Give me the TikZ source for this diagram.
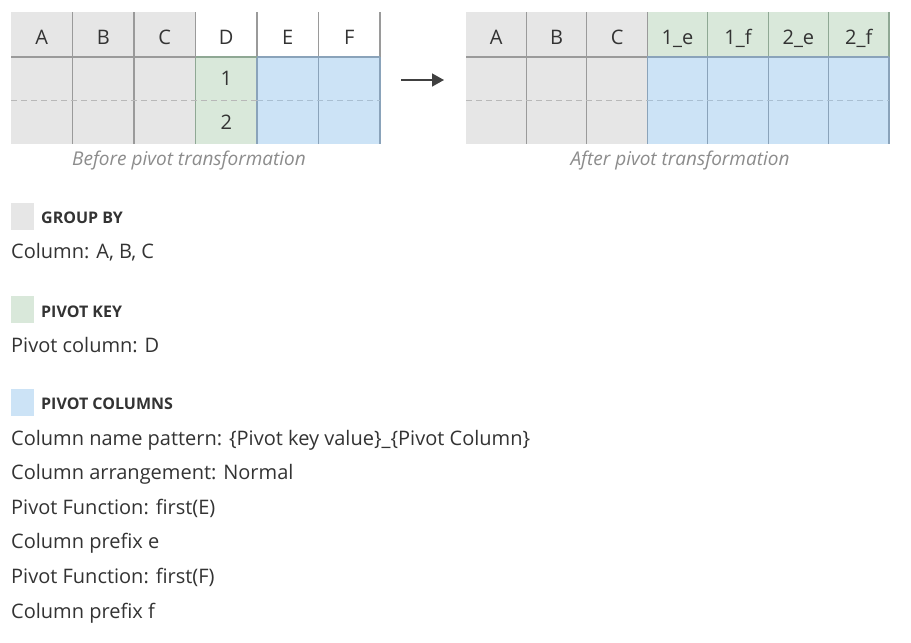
\documentclass[tikz,border=0pt]{standalone}
\usepackage{fontspec}
\setmainfont{Open Sans}
\usetikzlibrary{arrows.meta}
\definecolor{grayfill}{HTML}{E6E6E6}
\definecolor{keyfill}{HTML}{D9E8DA}
\definecolor{colfill}{HTML}{CCE3F6}
\definecolor{gridgray}{HTML}{9A9A9A}
\definecolor{gridgreen}{HTML}{8FA894}
\definecolor{gridblue}{HTML}{8AA3BA}
\definecolor{dashgray}{HTML}{B8B8B8}
\definecolor{dashblue}{HTML}{A9BFD2}
\definecolor{txt}{HTML}{333333}
\definecolor{capgray}{HTML}{8C8C8C}
\definecolor{arrowgray}{HTML}{404040}
\begin{document}
\begin{tikzpicture}[x=1pt,y=-1pt,
  cell/.style={anchor=north west,inner sep=0pt,outer sep=0pt,minimum height=#1,text=txt,font=\fontsize{20}{22}\selectfont},
  hdr/.style={text height=19pt,text depth=0pt},
  bdy/.style={text height=14pt,text depth=0pt},
  cellL/.style={cell=45pt,minimum width=61.5pt,hdr},
  cellLb/.style={cell=43.5pt,minimum width=61.5pt,bdy},
  cellR/.style={cell=45pt,minimum width=60.43pt,hdr},
  cellRb/.style={cell=43.5pt,minimum width=60.43pt,bdy},
  grid/.style={line width=1.2pt},
  dashln/.style={line width=1pt,dash pattern=on 6pt off 4pt},
  caption/.style={anchor=base,text=capgray,font=\fontsize{19}{21}\selectfont\itshape},
  legsq/.style={anchor=north west,inner sep=0pt,minimum width=23pt,minimum height=27pt},
  legtitle/.style={anchor=base west,inner sep=0pt,text=txt,font=\fontsize{16}{18}\selectfont\bfseries},
  legtext/.style={anchor=base west,inner sep=0pt,text=txt,font=\fontsize{20}{22}\selectfont},
]
\useasboundingbox (0,0) rectangle (911,643);
\fill[white] (0,0) rectangle (911,643);

% ---------- left table ----------
\foreach \n/\t [count=\i from 0] in {A/A,B/B,C/C}{
  \node[cellL,fill=grayfill] (lh\n) at (11+\i*61.5,12) {\t};
  \node[cellLb,fill=grayfill] (lb\n1) at (11+\i*61.5,57) {};
  \node[cellLb,fill=grayfill] (lb\n2) at (11+\i*61.5,100.5) {};
}
\node[cellL,fill=white] (lhD) at (195.5,12) {D};
\node[cellL,fill=white] (lhE) at (257,12) {E};
\node[cellL,fill=white] (lhF) at (318.5,12) {F};
\node[cellLb,fill=keyfill] (lbD1) at (195.5,57) {1};
\node[cellLb,fill=keyfill] (lbD2) at (195.5,100.5) {2};
\foreach \n [count=\i from 0] in {E,F}{
  \node[cellLb,fill=colfill] (lb\n1) at (257+\i*61.5,57) {};
  \node[cellLb,fill=colfill] (lb\n2) at (257+\i*61.5,100.5) {};
}
% grid lines left
\foreach \n in {A,B,C,D,E,F}{
  \draw[grid,gridgray] (lh\n.north east) -- (lh\n.south east);
}
\draw[grid,gridgray] (lbA1.north east) -- (lbA2.south east);
\draw[grid,gridgray] (lbB1.north east) -- (lbB2.south east);
\draw[grid,gridgreen] (lbC1.north east) -- (lbC2.south east);
\draw[grid,gridblue] (lbD1.north east) -- (lbD2.south east);
\draw[grid,gridblue] (lbE1.north east) -- (lbE2.south east);
\draw[grid,gridblue] (lbF1.north east) -- (lbF2.south east);
\draw[grid,gridgray] (lbA1.north west) -- (lbC1.north east);
\draw[grid,gridgreen] (lbD1.north west) -- (lbD1.north east);
\draw[grid,gridblue] (lbE1.north west) -- (lbF1.north east);
\draw[dashln,dashgray] (lbA2.north west) -- (lbD2.north east);
\draw[dashln,dashblue] (lbE2.north west) -- (lbF2.north east);
\draw[line width=1pt,white,dash pattern=on 3pt off 2pt] (lbA2.south west) -- (lbF2.south east);
\node[caption] (capL) at (189,165) {Before pivot transformation};

% ---------- arrow ----------
\coordinate (arrS) at (401,80);
\coordinate (arrE) at (444,80);
\draw[line width=1.5pt,arrowgray,-{Triangle[length=12pt,width=13pt]}] (arrS) -- (arrE);

% ---------- right table ----------
\foreach \n [count=\i from 0] in {A,B,C}{
  \node[cellR,fill=grayfill] (rh\n) at (466+\i*60.43,12) {\n};
  \node[cellRb,fill=grayfill] (rb\n1) at (466+\i*60.43,57) {};
  \node[cellRb,fill=grayfill] (rb\n2) at (466+\i*60.43,100.5) {};
}
\foreach \n/\t [count=\i from 3] in {G/1\_e,H/1\_f,I/2\_e,J/2\_f}{
  \node[cellR,fill=keyfill] (rh\n) at (466+\i*60.43,12) {\t};
  \node[cellRb,fill=colfill] (rb\n1) at (466+\i*60.43,57) {};
  \node[cellRb,fill=colfill] (rb\n2) at (466+\i*60.43,100.5) {};
}
\foreach \n in {A,B}{
  \draw[grid,gridgray] (rh\n.north east) -- (rb\n2.south east);
}
\draw[grid,gridgray] (rhC.north east) -- (rhC.south east);
\draw[grid,gridblue] (rbC1.north east) -- (rbC2.south east);
\foreach \n in {G,H,I,J}{
  \draw[grid,gridgreen] (rh\n.north east) -- (rh\n.south east);
  \draw[grid,gridblue] (rb\n1.north east) -- (rb\n2.south east);
}
\draw[grid,gridgray] (rbA1.north west) -- (rbC1.north east);
\draw[grid,gridblue] (rbG1.north west) -- (rbJ1.north east);
\draw[dashln,dashgray] (rbA2.north west) -- (rbC2.north east);
\draw[dashln,dashblue] (rbG2.north west) -- (rbJ2.north east);
\draw[line width=1pt,white,dash pattern=on 3pt off 2pt] (rbA2.south west) -- (rbJ2.south east);
\node[caption] (capR) at (680,165) {After pivot transformation};

% ---------- legend ----------
\node[legsq,fill=grayfill] (sqG) at (11,203) {};
\node[legtitle] (tG) at (41,223) {GROUP BY};
\node[legtext] (xG) at (11,258) {Column: A, B, C};

\node[legsq,fill=keyfill] (sqK) at (11,296) {};
\node[legtitle] (tK) at (41,317) {PIVOT KEY};
\node[legtext] (xK) at (11,352) {Pivot column: D};

\node[legsq,fill=colfill] (sqC) at (11,389) {};
\node[legtitle] (tC) at (41,409) {PIVOT COLUMNS};
\node[legtext] (x1) at (11,445) {Column name pattern: \{Pivot key value\}\_\{Pivot Column\}};
\node[legtext] (x2) at (11,479) {Column arrangement: Normal};
\node[legtext] (x3) at (11,514) {Pivot Function: first(E)};
\node[legtext] (x4) at (11,548) {Column prefix e};
\node[legtext] (x5) at (11,583) {Pivot Function: first(F)};
\node[legtext] (x6) at (11,618) {Column prefix f};
\end{tikzpicture}
\end{document}
